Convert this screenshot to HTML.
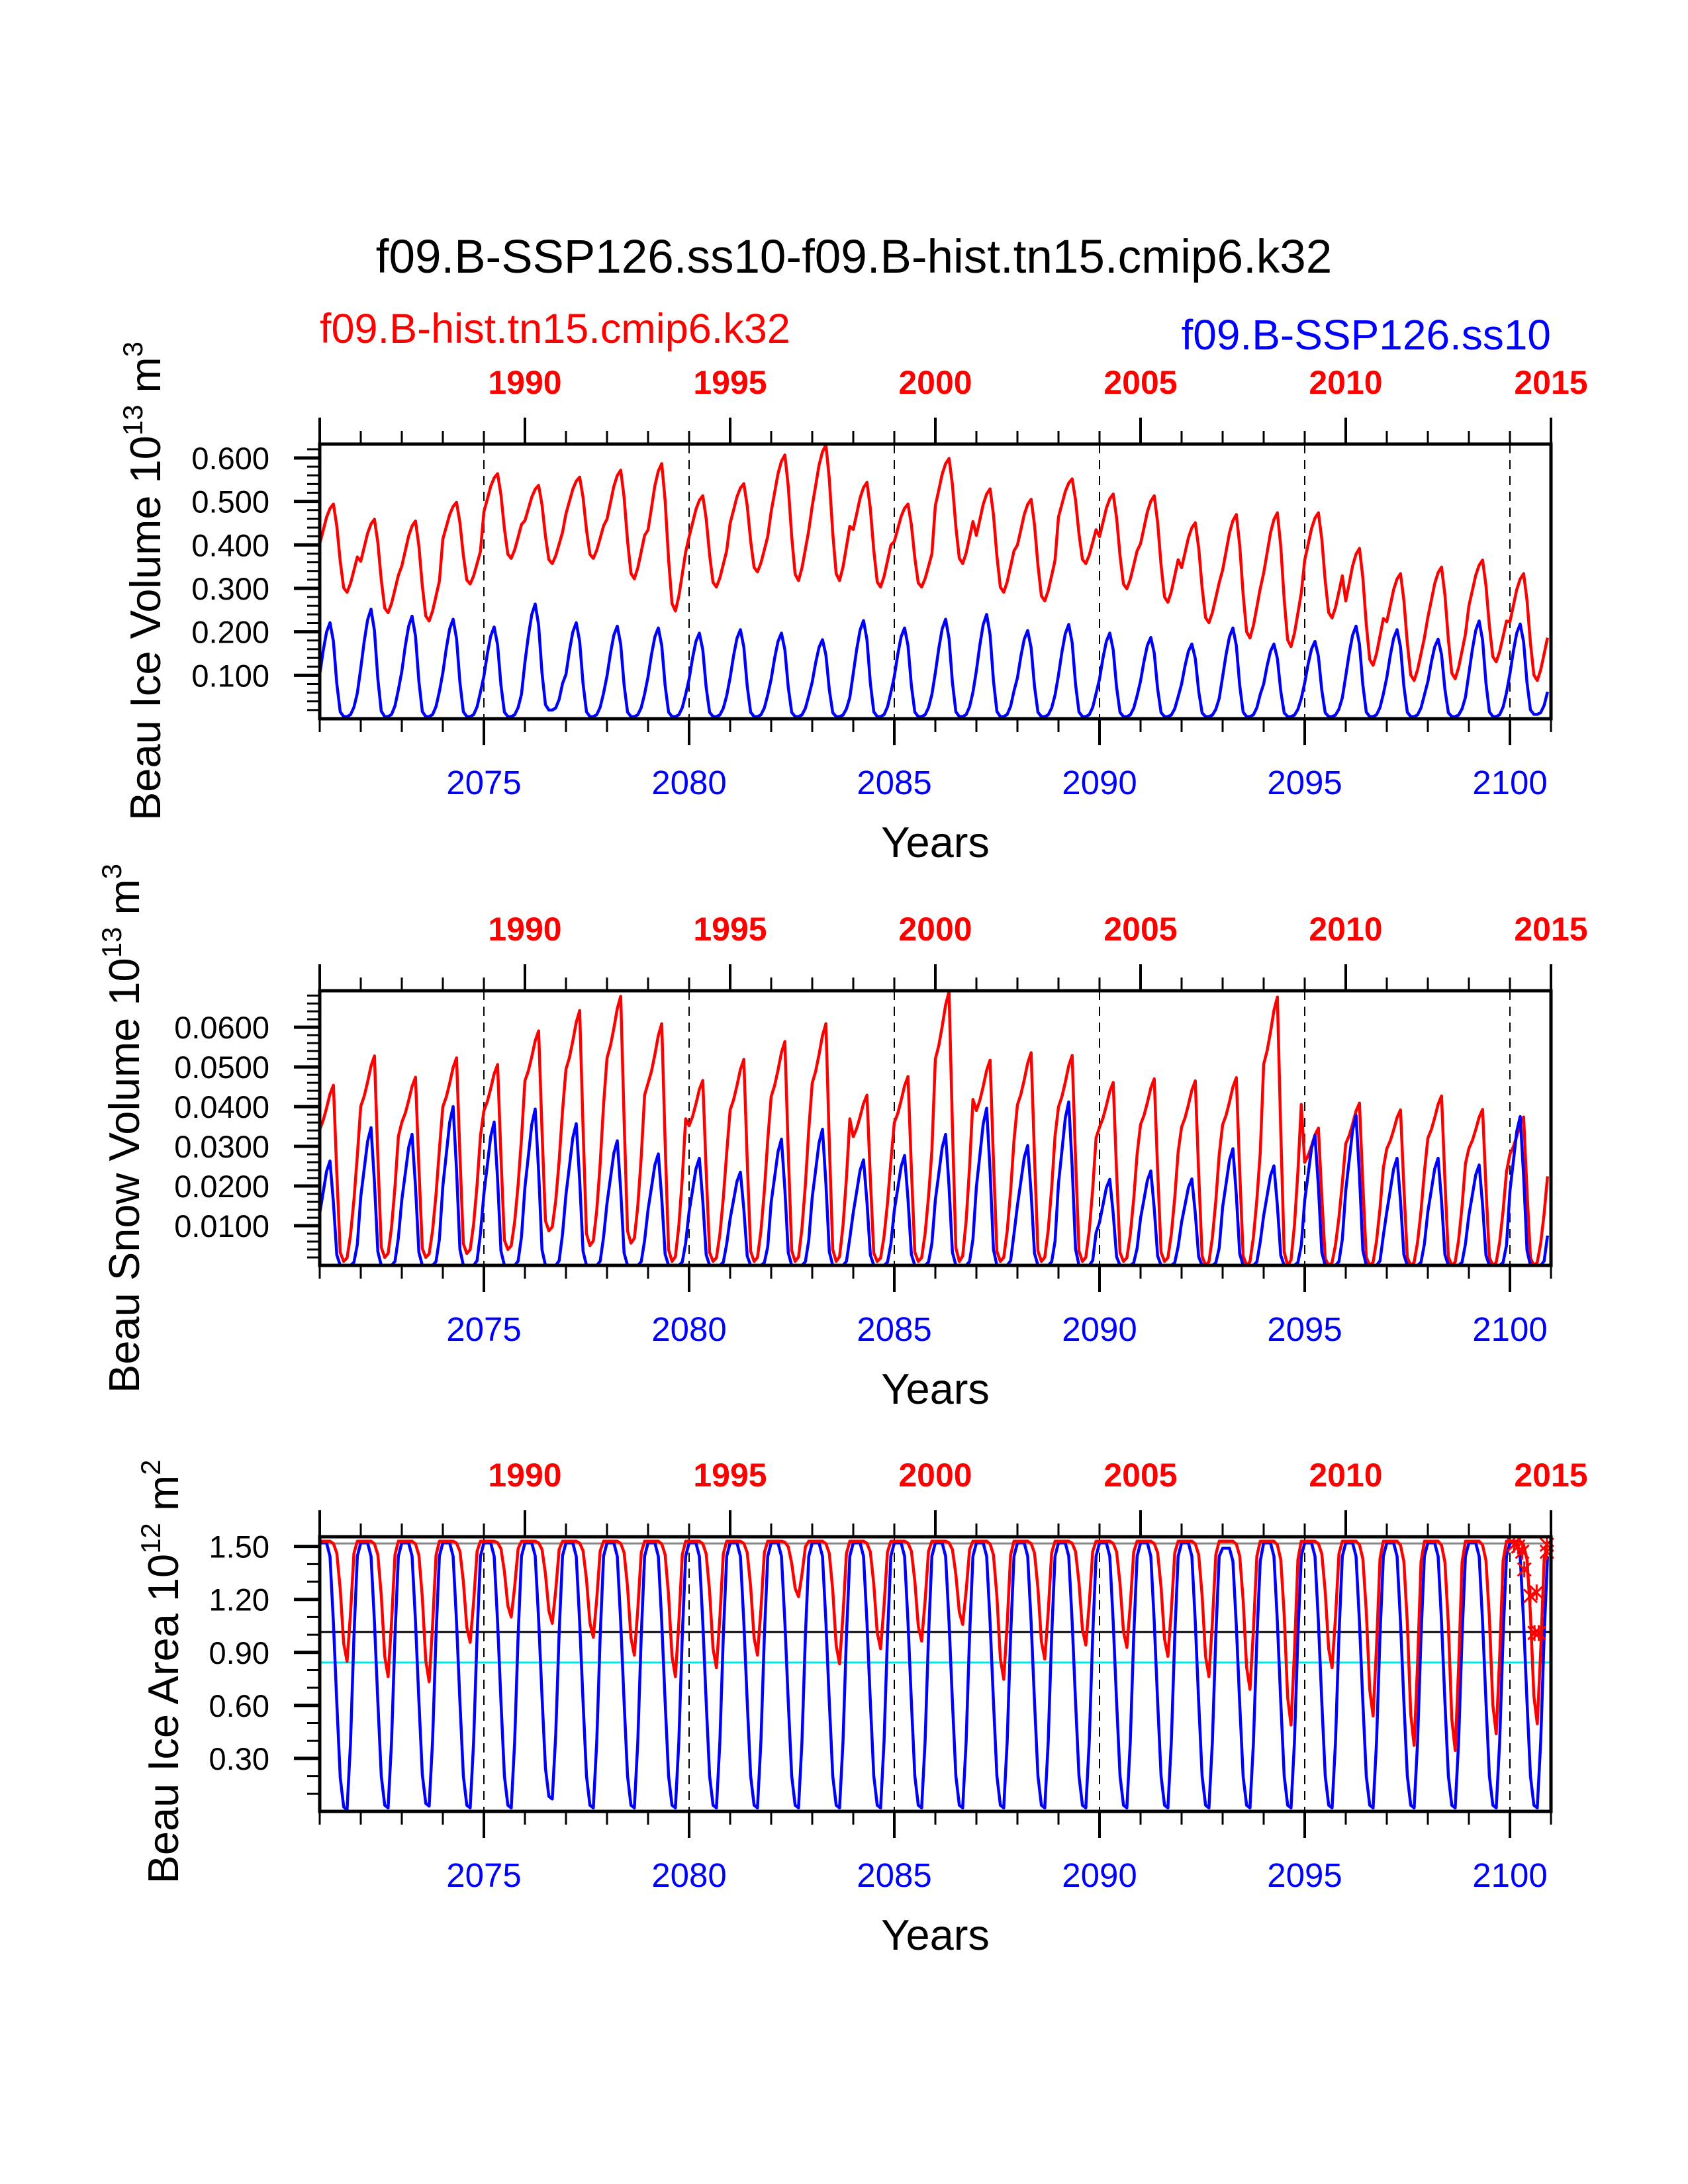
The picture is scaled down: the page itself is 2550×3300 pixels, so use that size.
<!DOCTYPE html>
<html><head><meta charset="utf-8"><style>
html,body{margin:0;padding:0;background:#fff;}
svg{display:block;font-family:"Liberation Sans",Arial,sans-serif;}
</style></head><body>
<svg id="fig" width="2550" height="3300" viewBox="0 0 2550 3300" xmlns="http://www.w3.org/2000/svg">
<rect width="2550" height="3300" fill="#fff"/>
<text x="1290" y="412" font-size="71" text-anchor="middle" fill="#000">f09.B-SSP126.ss10-f09.B-hist.tn15.cmip6.k32</text>
<text x="483" y="518" font-size="63" fill="#ff0000">f09.B-hist.tn15.cmip6.k32</text>
<text x="2343" y="528" font-size="64" text-anchor="end" fill="#0000ff">f09.B-SSP126.ss10</text>
<g id="plots"></g>
</svg>
<script>
// ---- shared axis data ----
const bottomYearLabels = [2075, 2080, 2085, 2090, 2095, 2100];
const topYearLabels = [1990, 1995, 2000, 2005, 2010, 2015];
const yearOffset = 86;
const startYear = 2071, endYear = 2101;

// ---- Panel 1: ice volume (annual peak / trough) ----
const volRedPeak = [0.494,0.459,0.455,0.498,0.564,0.537,0.556,0.572,0.587,0.513,0.541,0.607,0.630,0.544,0.494,0.599,0.529,0.505,0.552,0.517,0.513,0.451,0.470,0.474,0.474,0.392,0.334,0.349,0.365,0.334];
const volRedTrough = [0.291,0.244,0.225,0.310,0.369,0.357,0.369,0.322,0.248,0.303,0.338,0.318,0.318,0.303,0.303,0.357,0.291,0.271,0.357,0.299,0.268,0.221,0.186,0.166,0.232,0.123,0.088,0.092,0.131,0.088];
const volBluePeak = [0.221,0.252,0.236,0.229,0.211,0.264,0.221,0.213,0.209,0.197,0.205,0.197,0.182,0.226,0.209,0.229,0.240,0.203,0.217,0.197,0.187,0.172,0.209,0.172,0.178,0.213,0.205,0.183,0.225,0.218];
const volBlueTrough = [0.005,0.005,0.005,0.005,0.005,0.02,0.005,0.005,0.005,0.005,0.005,0.005,0.005,0.005,0.005,0.005,0.005,0.005,0.005,0.005,0.005,0.005,0.005,0.005,0.005,0.005,0.005,0.005,0.005,0.01];
const volRedShape = [0.55,0.7,0.85,0.95,1.0,0.75,0.35,0.05,0.0,0.1,0.25,0.4];
const volBlueShape = [0.45,0.7,0.9,1.0,0.8,0.35,0.05,0.0,0.0,0.02,0.1,0.25];
const volTicks = [0.1,0.2,0.3,0.4,0.5,0.6];
const volTickLabels = ["0.100","0.200","0.300","0.400","0.500","0.600"];

// ---- Panel 2: snow volume ----
const snowRedPeak = [0.0454,0.0528,0.0474,0.0523,0.0506,0.0591,0.0642,0.0678,0.0609,0.0466,0.0519,0.0564,0.0609,0.0429,0.0476,0.069,0.0517,0.0536,0.0529,0.0461,0.047,0.0465,0.0473,0.0676,0.0346,0.0409,0.0392,0.0427,0.0393,0.0374];
const snowRedTrough = [0.001,0.002,0.002,0.003,0.004,0.0087,0.005,0.0056,0.001,0.001,0.001,0.001,0.001,0.001,0.001,0.001,0.001,0.001,0.001,0.001,0.001,0.0,0.0,0.0,0.0,0.0,0.0,0.0,0.0,0.0];
const snowBluePeak = [0.0263,0.0347,0.033,0.040,0.0361,0.0394,0.0357,0.0314,0.0281,0.027,0.0235,0.0318,0.0343,0.0266,0.0277,0.033,0.0396,0.0302,0.0412,0.0217,0.0238,0.0218,0.0294,0.0251,0.0328,0.0378,0.027,0.027,0.0253,0.0375];
const snowBlueTrough = [0,0,0,0,0,0,0,0,0,0,0,0,0,0,0,0,0,0,0,0,0,0,0,0,0,0,0,0,0,0];
const snowRedShape = [0.75,0.8,0.87,0.95,1.0,0.5,0.05,0.0,0.02,0.15,0.35,0.6];
const snowBlueShape = [0.5,0.7,0.9,1.0,0.6,0.1,0.0,0.0,0.0,0.0,0.03,0.2];
const snowTicks = [0.01,0.02,0.03,0.04,0.05,0.06];
const snowTickLabels = ["0.0100","0.0200","0.0300","0.0400","0.0500","0.0600"];

// ---- Panel 3: ice area ----
const areaRedPeak = [1.53,1.53,1.53,1.53,1.53,1.53,1.53,1.53,1.53,1.53,1.53,1.53,1.53,1.53,1.53,1.53,1.53,1.53,1.53,1.53,1.53,1.53,1.53,1.53,1.53,1.53,1.53,1.53,1.53,1.53];
const areaRedTrough = [0.849,0.763,0.734,0.957,1.10,1.065,0.986,0.885,0.763,0.813,0.885,1.216,0.835,0.921,0.964,1.058,0.748,0.863,0.942,0.928,0.878,0.763,0.691,0.489,0.813,0.540,0.374,0.345,0.439,0.496];
const areaBluePeak = [1.52,1.52,1.52,1.52,1.52,1.52,1.52,1.52,1.52,1.52,1.52,1.52,1.52,1.52,1.52,1.52,1.52,1.52,1.52,1.52,1.52,1.52,1.49,1.52,1.52,1.52,1.52,1.52,1.52,1.52];
const areaBlueTrough = [0.01,0.02,0.03,0.02,0.02,0.07,0.02,0.02,0.02,0.02,0.02,0.02,0.02,0.02,0.02,0.02,0.02,0.02,0.02,0.02,0.02,0.02,0.02,0.02,0.02,0.02,0.02,0.02,0.02,0.02];
const areaRedShape = [1,1,1,1,0.98,0.9,0.6,0.15,0,0.4,0.9,1];
const areaBlueShape = [1,1,1,0.95,0.7,0.4,0.12,0.01,0,0.25,0.65,0.95];
const areaTicks = [0.3,0.6,0.9,1.2,1.5];
const areaTickLabels = ["0.30","0.60","0.90","1.20","1.50"];
const areaRefLines = [1.517, 1.016, 0.843];
const markerX = [2100.1,2100.2,2100.3,2100.35,2100.5,2100.65,2100.6,2100.7,2100.9,2100.9];
const markerY = [1.51,1.50,1.47,1.37,1.22,1.24,1.01,1.01,1.51,1.47];

const NS = "http://www.w3.org/2000/svg";
const X0 = 483, X1 = 2343;
function xScale(t){ return X0 + (t - startYear) / (endYear - startYear) * (X1 - X0); }
function mk(tag, attrs, parent){ const e = document.createElementNS(NS, tag); for (const k in attrs) e.setAttribute(k, attrs[k]); parent.appendChild(e); return e; }
const root = document.getElementById('plots');

function seriesPoints(peak, trough, shape, yS){
  const pts = [];
  for (let i = 0; i < peak.length; i++) {
    for (let m = 0; m < 12; m++) {
      const v = trough[i] + shape[m] * (peak[i] - trough[i]);
      pts.push(xScale(startYear + i + m / 12).toFixed(1) + "," + yS(v).toFixed(1));
    }
  }
  return pts.join(" ");
}

function panel(idx, top, ymax, ticks, tickLabels, minorStep, title, sup1, unit, sup2, titleX, titleY, series){
  const H = 415, bot = top + H;
  const yS = v => bot - v / ymax * H;
  const g = mk('g', {}, root);
  
  
  bottomYearLabels.forEach(y => {
    const l = mk('line', {x1: xScale(y), x2: xScale(y), y1: top, y2: bot, stroke: '#000', 'stroke-width': 2, 'stroke-dasharray': '14,10'}, g);
    
    
  });
  if (idx === 3) {
    const cols = ['#888', '#000', '#00e5ee'];
    areaRefLines.forEach((v, k) => {
      const l = mk('line', {x1: X0, x2: X1, y1: yS(v), y2: yS(v), stroke: cols[k], 'stroke-width': 3}, g);
      
      
    });
  }
  series.forEach(s => {
    const p = mk('polyline', {points: seriesPoints(s.peak, s.trough, s.shape, yS), fill: 'none', stroke: s.color, 'stroke-width': 4.5, 'stroke-linejoin': 'round'}, g);
    
    
  });
  if (idx === 3) {
    markerX.forEach((mx, k) => {
      const cx = xScale(mx), cy = yS(markerY[k]);
      const a = mk('path', {d: `M${cx-10},${cy-10}L${cx+10},${cy+10}M${cx-10},${cy+10}L${cx+10},${cy-10}M${cx},${cy-12}L${cx},${cy+12}`, stroke: '#ff0000', 'stroke-width': 3}, g);
      
      
    });
  }
  const box = mk('rect', {x: X0, y: top, width: X1 - X0, height: H, fill: 'none', stroke: '#000', 'stroke-width': 5}, g);
  
  
  for (let y = startYear; y <= endYear; y++) {
    const major = (y % 5 === 0);
    const x = xScale(y);
    mk('line', {x1: x, x2: x, y1: bot, y2: bot + (major ? 40 : 20), stroke: '#000', 'stroke-width': major ? 4 : 3}, g);
    const topMajor = ((y - yearOffset) % 5 === 0);
    mk('line', {x1: x, x2: x, y1: top, y2: top - (topMajor ? 40 : 20), stroke: '#000', 'stroke-width': topMajor ? 4 : 3}, g);
  }
  bottomYearLabels.forEach(y => {
    const t = mk('text', {x: xScale(y), y: bot + 114, 'font-size': 51, 'text-anchor': 'middle', fill: '#0000ff'}, g);
    t.textContent = y;
    
    
  });
  topYearLabels.forEach(y => {
    const t = mk('text', {x: xScale(y + yearOffset), y: top - 76, 'font-size': 50, 'font-weight': 'bold', 'text-anchor': 'middle', fill: '#ff0000'}, g);
    t.textContent = y;
    
    
  });
  const xt = mk('text', {x: 1413, y: bot + 209, 'font-size': 65, 'text-anchor': 'middle', fill: '#000'}, g);
  xt.textContent = 'Years';
  
  
  for (let v = minorStep; v < ymax; v += minorStep) {
    const y = yS(v);
    mk('line', {x1: X0, x2: X0 - 19, y1: y, y2: y, stroke: '#000', 'stroke-width': 3}, g);
  }
  ticks.forEach((v, k) => {
    const y = yS(v);
    mk('line', {x1: X0, x2: X0 - 39, y1: y, y2: y, stroke: '#000', 'stroke-width': 5}, g);
    const t = mk('text', {x: 407, y: y + 17, 'font-size': 47, 'text-anchor': 'end', fill: '#000'}, g);
    t.textContent = tickLabels[k];
    
    
  });
  const yt = mk('text', {x: 0, y: 0, 'font-size': 65, 'text-anchor': 'middle', fill: '#000', transform: `translate(${titleX},${titleY}) rotate(-90)`}, g);
  
  
  const a = document.createElementNS(NS, 'tspan'); a.textContent = title; yt.appendChild(a);
  const b = document.createElementNS(NS, 'tspan'); b.setAttribute('dy', '-27'); b.setAttribute('font-size', '42'); b.textContent = sup1; yt.appendChild(b);
  const c = document.createElementNS(NS, 'tspan'); c.setAttribute('dy', '27'); c.textContent = unit; yt.appendChild(c);
  const d = document.createElementNS(NS, 'tspan'); d.setAttribute('dy', '-27'); d.setAttribute('font-size', '42'); d.textContent = sup2; yt.appendChild(d);
}

panel(1, 671, 0.632, volTicks, volTickLabels, 0.02, 'Beau Ice Volume 10', '13', ' m', '3', 242, 878, [
  {peak: volRedPeak, trough: volRedTrough, shape: volRedShape, color: '#ff0000', name: 'hist-ice-volume-line'},
  {peak: volBluePeak, trough: volBlueTrough, shape: volBlueShape, color: '#0000ff', name: 'ssp126-ice-volume-line'}
]);
panel(2, 1497, 0.0692, snowTicks, snowTickLabels, 0.002, 'Beau Snow Volume 10', '13', ' m', '3', 210, 1705, [
  {peak: snowRedPeak, trough: snowRedTrough, shape: snowRedShape, color: '#ff0000', name: 'hist-snow-volume-line'},
  {peak: snowBluePeak, trough: snowBlueTrough, shape: snowBlueShape, color: '#0000ff', name: 'ssp126-snow-volume-line'}
]);
panel(3, 2322, 1.555, areaTicks, areaTickLabels, 0.1, 'Beau Ice Area 10', '12', ' m', '2', 269, 2526, [
  {peak: areaBluePeak, trough: areaBlueTrough, shape: areaBlueShape, color: '#0000ff', name: 'ssp126-ice-area-line'},
  {peak: areaRedPeak, trough: areaRedTrough, shape: areaRedShape, color: '#ff0000', name: 'hist-ice-area-line'}
]);
</script>
</body></html>
